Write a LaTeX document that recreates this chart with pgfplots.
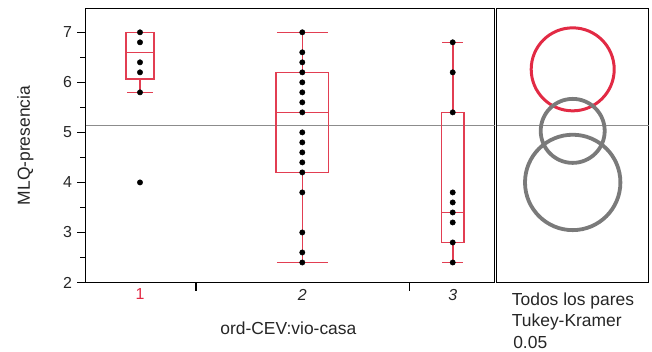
\documentclass[border=0pt]{standalone}
\usepackage{pgfplots}
\pgfplotsset{compat=1.18}
\usepgfplotslibrary{statistics}
\usepackage{fontspec}
\setmainfont{Liberation Sans}

\definecolor{jmpred}{RGB}{226,42,68}
\definecolor{boxred}{RGB}{226,62,82}
\definecolor{ringgray}{RGB}{122,122,122}
\definecolor{meangray}{RGB}{140,140,140}

% grand mean of MLQ-presencia
\newcommand{\grandmean}{5.13}

\begin{document}
\begin{tikzpicture}
\useasboundingbox (0,0) rectangle (652bp,352bp);

% ---------- main panel: one-way analysis ----------
\begin{axis}[
  at={(85.5bp,69.5bp)}, anchor=south west,
  scale only axis, width=409bp, height=274bp,
  xmin=0, xmax=4.09, ymin=2, ymax=7.476,
  boxplot/draw direction=y,
  axis line style={line width=1.6bp},
  tick pos=left,
  tick align=outside,
  xtick={1.105,3.238}, xticklabels={},
  major tick length=8bp, minor tick length=5bp,
  ytick={2,3,4,5,6,7}, minor ytick={2.5,3.5,4.5,5.5,6.5},
  ytick style={draw=black, line width=1.2bp},
  xtick style={draw=black, line width=1.2bp},
  yticklabel style={xshift=-2bp},
  xticklabel style={yshift=-3bp},
  extra x ticks={0.545,2.168,3.672},
  extra x tick labels={\textcolor{jmpred}{1},\textit{2},\textit{3}},
  extra x tick style={major tick length=0pt},
  /pgf/number format/assume math mode=true,
  ticklabel style={font=\fontsize{16}{19}\selectfont, text=black!85},
  label style={font=\fontsize{17.5}{21}\selectfont, text=black!85},
  xlabel={ord-CEV:vio-casa},
  xlabel style={at={(axis description cs:0.496,0)}, anchor=base, yshift=-51.5bp},
  ylabel={MLQ-presencia},
  ylabel style={at={(axis description cs:-0.147,0.5)}, anchor=center},
  clip=false,
]
% grand mean reference line
\addplot[meangray, line width=0.9bp] coordinates {(0,\grandmean) (4.09,\grandmean)};

% observations
\addplot[only marks, mark=*, mark size=2.7bp, black] coordinates {
  (0.545,7.0) (0.545,6.8) (0.545,6.4) (0.545,6.2) (0.545,5.8) (0.545,4.0)
};
\addplot[only marks, mark=*, mark size=2.7bp, black] coordinates {
  (2.168,7.0) (2.168,6.6) (2.168,6.4) (2.168,6.2) (2.168,6.0) (2.168,5.8)
  (2.168,5.6) (2.168,5.4) (2.168,5.0) (2.168,4.8) (2.168,4.6) (2.168,4.4)
  (2.168,4.2) (2.168,3.8) (2.168,3.0) (2.168,2.6) (2.168,2.4)
};
\addplot[only marks, mark=*, mark size=2.7bp, black] coordinates {
  (3.672,6.8) (3.672,6.2) (3.672,5.4) (3.672,3.8) (3.672,3.6) (3.672,3.4)
  (3.672,3.2) (3.672,2.8) (3.672,2.4)
};

% box plots
\addplot[draw=boxred, line width=1.6bp, solid, mark=none,
  boxplot prepared={draw position=0.545, lower whisker=5.8, lower quartile=6.07,
    median=6.6, upper quartile=7.0, upper whisker=7.0,
    box extend=0.276, whisker extend=0.26}] coordinates {};
\addplot[draw=boxred, line width=1.6bp, solid, mark=none,
  boxplot prepared={draw position=2.168, lower whisker=2.4, lower quartile=4.2,
    median=5.4, upper quartile=6.2, upper whisker=7.0,
    box extend=0.523, whisker extend=0.51}] coordinates {};
\addplot[draw=boxred, line width=1.6bp, solid, mark=none,
  boxplot prepared={draw position=3.672, lower whisker=2.4, lower quartile=2.8,
    median=3.4, upper quartile=5.4, upper whisker=6.8,
    box extend=0.223, whisker extend=0.206}] coordinates {};
\end{axis}

% ---------- comparison circles ----------
\begin{axis}[
  at={(496.5bp,69.5bp)}, anchor=south west,
  scale only axis, width=152bp, height=274bp,
  xmin=0, xmax=1.52, ymin=2, ymax=7.476,
  axis line style={line width=1.5bp},
  xtick=\empty, ytick=\empty,
  clip=false,
]
\addplot[meangray, line width=0.9bp] coordinates {(0,\grandmean) (1.52,\grandmean)};
\addplot[only marks, mark=o, mark size=41.5bp, jmpred, mark options={line width=3bp}]
  coordinates {(0.762,6.26)};
\addplot[only marks, mark=o, mark size=32bp, ringgray, mark options={line width=3.8bp}]
  coordinates {(0.762,5.03)};
\addplot[only marks, mark=o, mark size=47.7bp, ringgray, mark options={line width=3.8bp}]
  coordinates {(0.762,4.00)};

\node[anchor=base west, font=\fontsize{17.5}{21}\selectfont, text=black!85, inner sep=0pt]
  at ([yshift=-22.5bp]axis description cs:0.1,0) {Todos los pares};
\node[anchor=base west, font=\fontsize{17.5}{21}\selectfont, text=black!85, inner sep=0pt]
  at ([yshift=-44.2bp]axis description cs:0.1,0) {Tukey-Kramer};
\node[anchor=base west, font=\fontsize{17.5}{21}\selectfont, text=black!85, inner sep=0pt]
  at ([yshift=-65.5bp]axis description cs:0.109,0) {0.05};
\end{axis}
\end{tikzpicture}
\end{document}
